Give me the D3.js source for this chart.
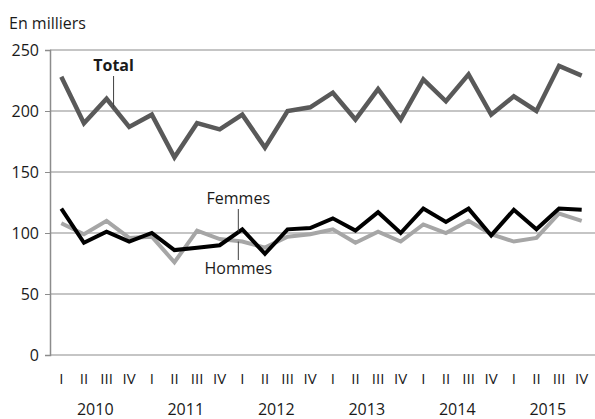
<!DOCTYPE html>
<html>
<head>
<meta charset="utf-8">
<script src="https://cdn.jsdelivr.net/npm/d3@7"></script>
<style>
  body { margin: 0; background: #fff; }
  text { font-family: "Open Sans", "DejaVu Sans", sans-serif; fill: #1a1a1a; }
</style>
</head>
<body>
<script>
// quarterly data, 2010 Q1 to 2015 Q4
var years = ["2010", "2011", "2012", "2013", "2014", "2015"];
var quarters = ["I", "II", "III", "IV"];
var total   = [228, 190, 210, 187, 197, 162, 190, 185, 197, 170, 200, 203, 215, 193, 218, 193, 226, 208, 230, 197, 212, 200, 237, 229];
var femmes  = [120, 92, 101, 93, 100, 86, 88, 90, 103, 83, 103, 104, 112, 102, 117, 100, 120, 109, 120, 98, 119, 103, 120, 119];
var hommes  = [108, 99, 110, 96, 97, 76, 102, 95, 93, 88, 97, 99, 103, 92, 101, 93, 107, 100, 110, 99, 93, 96, 116, 110];
var yTicks = [0, 50, 100, 150, 200, 250];

var width = 595, height = 419;
var margin = {left: 50, right: 0, top: 50, bottom: 64};
var w = width - margin.left - margin.right;
var h = height - margin.top - margin.bottom;

var keys = [];
years.forEach(function(y) {
  quarters.forEach(function(q) { keys.push(y + "-" + q); });
});

var svg = d3.select("body")
  .append("svg")
  .attr("width", width)
  .attr("height", height);

var g = svg.append("g")
  .attr("transform", "translate(" + margin.left + "," + margin.top + ")");

var x = d3.scaleBand()
  .domain(keys)
  .range([0, w - 2]);

var y = d3.scaleLinear()
  .domain([0, 250])
  .range([h, 0]);

// gridlines
g.selectAll(".grid")
  .data(yTicks)
  .enter()
  .append("line")
  .attr("class", "grid")
  .attr("x1", 0)
  .attr("x2", w)
  .attr("y1", function(d) { return y(d); })
  .attr("y2", function(d) { return y(d); })
  .attr("stroke", "#8c8c8c")
  .attr("stroke-width", 1.2);

// y axis
var yAxis = g.append("g")
  .call(d3.axisLeft(y).tickValues(yTicks).tickSize(5).tickPadding(6));
yAxis.select(".domain").attr("stroke", "#8c8c8c").attr("stroke-width", 1.5);
yAxis.selectAll(".tick line").attr("stroke", "#8c8c8c");
yAxis.selectAll(".tick text")
  .attr("font-size", "16px")
  .attr("font-family", "'Open Sans', 'DejaVu Sans', sans-serif")
  .attr("fill", "#1a1a1a");

// quarter labels
g.selectAll(".qlab")
  .data(keys)
  .enter()
  .append("text")
  .attr("class", "qlab")
  .attr("x", function(d) { return x(d) + x.bandwidth() / 2; })
  .attr("y", h + 29)
  .attr("text-anchor", "middle")
  .attr("font-size", "15px")
  .text(function(d) { return d.split("-")[1]; });

// year labels
g.selectAll(".ylab")
  .data(years)
  .enter()
  .append("text")
  .attr("class", "ylab")
  .attr("x", function(d) {
    return (x(d + "-II") + x(d + "-III") + x.bandwidth()) / 2;
  })
  .attr("y", h + 60)
  .attr("text-anchor", "middle")
  .attr("font-size", "16px")
  .text(function(d) { return d; });

var line = d3.line()
  .x(function(d, i) { return x(keys[i]) + x.bandwidth() / 2; })
  .y(function(d) { return y(d); });

g.append("path")
  .datum(hommes)
  .attr("d", line)
  .attr("fill", "none")
  .attr("stroke", "#a6a6a6")
  .attr("stroke-width", 4);

g.append("path")
  .datum(femmes)
  .attr("d", line)
  .attr("fill", "none")
  .attr("stroke", "#000")
  .attr("stroke-width", 4);

g.append("path")
  .datum(total)
  .attr("d", line)
  .attr("fill", "none")
  .attr("stroke", "#595959")
  .attr("stroke-width", 4.5);

// unit label
svg.append("text")
  .attr("x", 9)
  .attr("y", 29)
  .attr("font-size", "16px")
  .text("En milliers");

// series labels with leader lines
function label(txt, key, val, ty, ly1, dx, bold) {
  var cx = x(key) + x.bandwidth() / 2 + dx;
  g.append("text")
    .attr("x", cx)
    .attr("y", ty)
    .attr("text-anchor", "middle")
    .attr("font-size", "16px")
    .attr("font-weight", bold ? "bold" : "normal")
    .text(txt);
  g.append("line")
    .attr("x1", cx).attr("x2", cx)
    .attr("y1", ly1).attr("y2", y(val))
    .attr("stroke", "#404040")
    .attr("stroke-width", 1);
}
label("Total", "2010-III", 203, 21, 26, 7, true);
label("Femmes", "2012-I", 101, 154, 159, -4, false);
label("Hommes", "2012-I", 93, 224, 210, -4, false);
</script>
</body>
</html>
